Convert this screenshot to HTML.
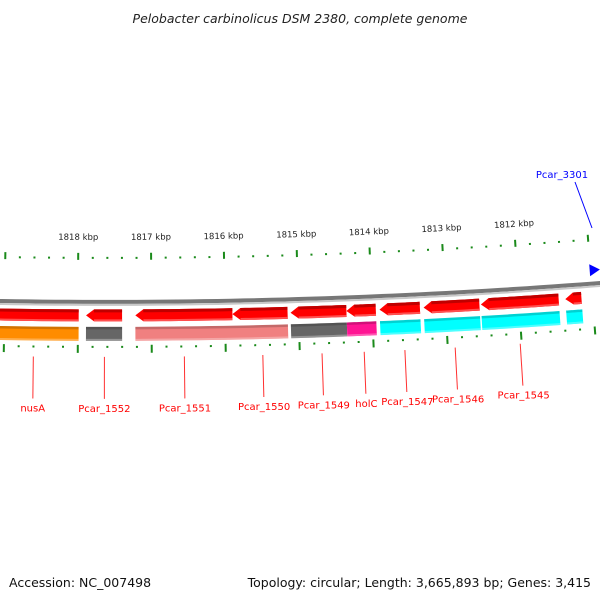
<!DOCTYPE html>
<html><head><meta charset="utf-8">
<style>
body{margin:0;background:#fff;}
svg{display:block;font-family:"DejaVu Sans","Liberation Sans",sans-serif;}
</style></head>
<body>
<svg id="chart" width="600" height="600" viewBox="0 0 600 600">
<text x="300" y="23" font-size="12.5" font-style="italic" text-anchor="middle" fill="#222">Pelobacter carbinolicus DSM 2380, complete genome</text>
<text x="9" y="587" font-size="12.5" fill="#111">Accession: NC_007498</text>
<text x="591" y="587" font-size="12.5" fill="#111" text-anchor="end">Topology: circular; Length: 3,665,893 bp; Genes: 3,415</text>
<g id="layer"></g>
</svg>
<script>
// data (kbp)
const tickLabels = [1818, 1817, 1816, 1815, 1814, 1813, 1812];
const row1Genes = [ // [start, end, strand]
  [1820.5, 1817.99, 0], [1817.89, 1817.40, -1], [1817.22, 1815.90, -1], [1815.90, 1815.15, -1],
  [1815.11, 1814.35, -1], [1814.35, 1813.95, -1], [1813.90, 1813.35, -1], [1813.30, 1812.54, -1],
  [1812.52, 1811.46, -1], [1811.37, 1811.15, -1]
];
const row2Starts = [1820.5, 1817.89, 1817.22, 1815.11, 1814.35, 1813.90, 1813.30, 1812.52, 1811.37];
const row2Ends   = [1817.99, 1817.40, 1815.15, 1814.35, 1813.95, 1813.35, 1812.54, 1811.46, 1811.15];
const row2Colors = ['#ff8c00','#666666','#f08080','#666666','#ff1493','#00ffff','#00ffff','#00ffff','#00ffff'];
const geneLabels = ['nusA','Pcar_1552','Pcar_1551','Pcar_1550','Pcar_1549','holC','Pcar_1547','Pcar_1546','Pcar_1545'];
const labelPos = [1818.6, 1817.64, 1816.56, 1815.5, 1814.7, 1814.13, 1813.58, 1812.9, 1812.02];

const NS='http://www.w3.org/2000/svg';
const layer=document.getElementById('layer');
const R=6430, CX=107, CY=300.9-R, PX=73.4;
function ang(p){return (78-CX+(1818-p)*PX)/R;}
function pt(p,off){const a=ang(p),r=R-off;return [CX+r*Math.sin(a), CY+r*Math.cos(a)];}
function mk(tag,attrs){const e=document.createElementNS(NS,tag);for(const k in attrs)e.setAttribute(k,attrs[k]);layer.appendChild(e);return e;}
function arcPath(p1,p2,o1,o2,steps){let d='';for(let i=0;i<=steps;i++){const p=p1+(p2-p1)*i/steps;const q=pt(p,o1);d+=(i?'L':'M')+q[0].toFixed(2)+','+q[1].toFixed(2);}for(let i=steps;i>=0;i--){const p=p1+(p2-p1)*i/steps;const q=pt(p,o2);d+='L'+q[0].toFixed(2)+','+q[1].toFixed(2);}return d+'Z';}

// backbone
let bb=mk('path',{d:arcPath(1820.5,1809.5,1,-3,60),fill:'#777'});


let bb2=mk('path',{d:arcPath(1820.5,1809.5,-3,-5,60),fill:'#c8c8c8'});



// ticks
for(let k=0;k<=55;k++){
  const p=1819.4-k*0.2;
  const major=Math.abs(p-Math.round(p))<0.01;
  [[41,48,42,44],[-44,-52,-45,-47]].forEach((o,j)=>{
    const a=pt(p,major?o[0]:o[2]),b=pt(p,major?o[1]:o[3]);
    const t=mk('line',{x1:a[0],y1:a[1],x2:b[0],y2:b[1],stroke:'#1a8a1a','stroke-width':2});
    
    
  });
}
tickLabels.forEach(v=>{
  const q=pt(v,61);const a=-ang(v)*180/Math.PI;
  const t=mk('text',{x:q[0],y:q[1],'font-size':'8.5','text-anchor':'middle',fill:'#222',transform:`rotate(${a.toFixed(2)} ${q[0]} ${q[1]})`});
  t.textContent=v+' kbp';
  
  
});

// row1 genes (red arrows)
row1Genes.forEach(g=>{
  const [s,e,dir]=g; const o1=-8.5,o2=-20.5, head=8/PX;
  let d;
  if(dir===-1){
    const tip=pt(s,(o1+o2)/2), bodyStart=s-head;
    let path=arcPath(bodyStart,e,o1,o2,10);
    const a=pt(bodyStart,o1),b=pt(bodyStart,o2);
    path+=`M${a[0]},${a[1]}L${tip[0]},${tip[1]}L${b[0]},${b[1]}Z`;
    d=path;
  } else d=arcPath(s,e,o1,o2,20);
  const el=mk('path',{d:d,fill:'#ff0000'});
  
  
  const top=mk('path',{d:arcPath(dir===-1?s-head:s,e,o1,o1-3,10),fill:'#c00000'});
  
  
  const bot=mk('path',{d:arcPath(dir===-1?s-head:s,e,o2+2,o2,10),fill:'#ff5050'});
  
  
});

// row2 colored blocks
row2Starts.forEach((s,i)=>{
  const e=row2Ends[i];
  const el=mk('path',{d:arcPath(s,e,-26,-40,12),fill:row2Colors[i]});
  
  
  const sh=mk('path',{d:arcPath(s,e,-26,-28.5,12),fill:'#000','fill-opacity':'0.18'});
  
  
  const hl=mk('path',{d:arcPath(s,e,-38,-40,12),fill:'#fff','fill-opacity':'0.3'});
  
  
});

// forward gene (blue) on outer side
{
  const tip=pt(1810.87,12.5),a=pt(1811.01,6.5),b=pt(1811.01,18.5);
  const el=mk('path',{d:`M${a[0]},${a[1]}L${b[0]},${b[1]}L${tip[0]},${tip[1]}Z`,fill:'#0000ff'});
  
  
}
{
  const l=mk('line',{x1:575,y1:182,x2:592,y2:228,stroke:'#0000ff','stroke-width':1});
  
  
  const t=mk('text',{x:562,y:178,'font-size':'10','text-anchor':'middle',fill:'#0000ff'});
  t.textContent='Pcar_3301';
  
  
}

// gene labels
geneLabels.forEach((name,i)=>{
  const p=labelPos[i];
  const a=pt(p,-56),b=pt(p,-98);
  const l=mk('line',{x1:a[0],y1:a[1],x2:b[0],y2:b[1],stroke:'#ff3030','stroke-width':1});
  
  
  const q=pt(p,-110);
  const t=mk('text',{x:q[0],y:q[1]+1,'font-size':'10','text-anchor':'middle',fill:'#ff0000'});
  t.textContent=name;
  
  
});
</script>
</body></html>
